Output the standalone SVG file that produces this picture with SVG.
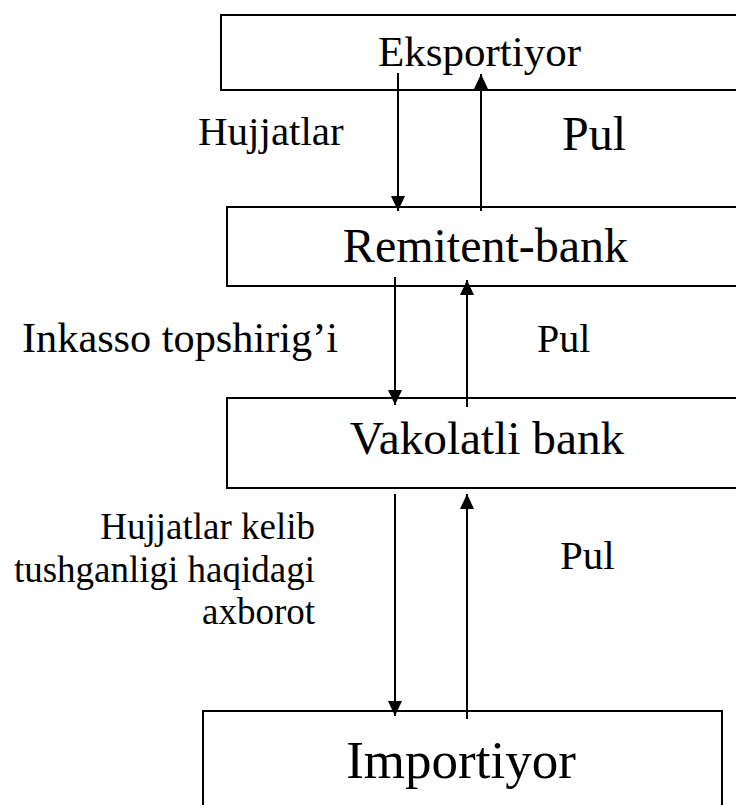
<svg xmlns="http://www.w3.org/2000/svg" width="736" height="805" viewBox="0 0 736 805">
<style>
.box{fill:#fff;stroke:#000;stroke-width:2}
.t{font-family:"Liberation Serif","Times New Roman",serif;fill:#000}
.c{text-anchor:middle}
.r{text-anchor:end}
.ln{stroke:#000;stroke-width:2;fill:none;marker-end:url(#ah)}
</style>
<defs>
<marker id="ah" markerUnits="userSpaceOnUse" markerWidth="16" markerHeight="15" refX="15" refY="7" orient="auto">
<path d="M0,0 L15,7 L0,14 z" fill="#000"/>
</marker>
</defs>
<g id="eksportiyor">
<rect class="box" x="221" y="15" width="520" height="75"/>
<text class="t c" x="479.5" y="66" font-size="43">Eksportiyor</text>
</g>
<g id="remitent-bank">
<rect class="box" x="227" y="207" width="514" height="79"/>
<text class="t c" x="485.5" y="262" font-size="48">Remitent-bank</text>
</g>
<g id="vakolatli-bank">
<rect class="box" x="227" y="398" width="514" height="90"/>
<text class="t c" x="487" y="453.5" font-size="47.3">Vakolatli bank</text>
</g>
<g id="importiyor">
<rect class="box" x="203" y="711" width="519" height="110"/>
<text class="t c" x="461" y="778" font-size="53">Importiyor</text>
</g>
<g id="connectors">
<line class="ln" x1="398" y1="73" x2="398" y2="211"/>
<line class="ln" x1="481" y1="211" x2="481" y2="74"/>
<line class="ln" x1="395" y1="277" x2="395" y2="405"/>
<line class="ln" x1="467" y1="407" x2="467" y2="280"/>
<line class="ln" x1="395" y1="494" x2="395" y2="716"/>
<line class="ln" x1="467" y1="719" x2="467" y2="494"/>
</g>
<g id="labels">
<text class="t" x="198" y="145" font-size="41">Hujjatlar</text>
<text class="t" x="562" y="150" font-size="48">Pul</text>
<text class="t" x="22" y="352" font-size="42.3">Inkasso topshirig’i</text>
<text class="t" x="537" y="352" font-size="40">Pul</text>
<text class="t r" x="315" y="539" font-size="37">Hujjatlar kelib</text>
<text class="t r" x="315" y="582" font-size="37">tushganligi haqidagi</text>
<text class="t r" x="315" y="624" font-size="37">axborot</text>
<text class="t" x="560" y="569" font-size="41">Pul</text>
</g>
</svg>
